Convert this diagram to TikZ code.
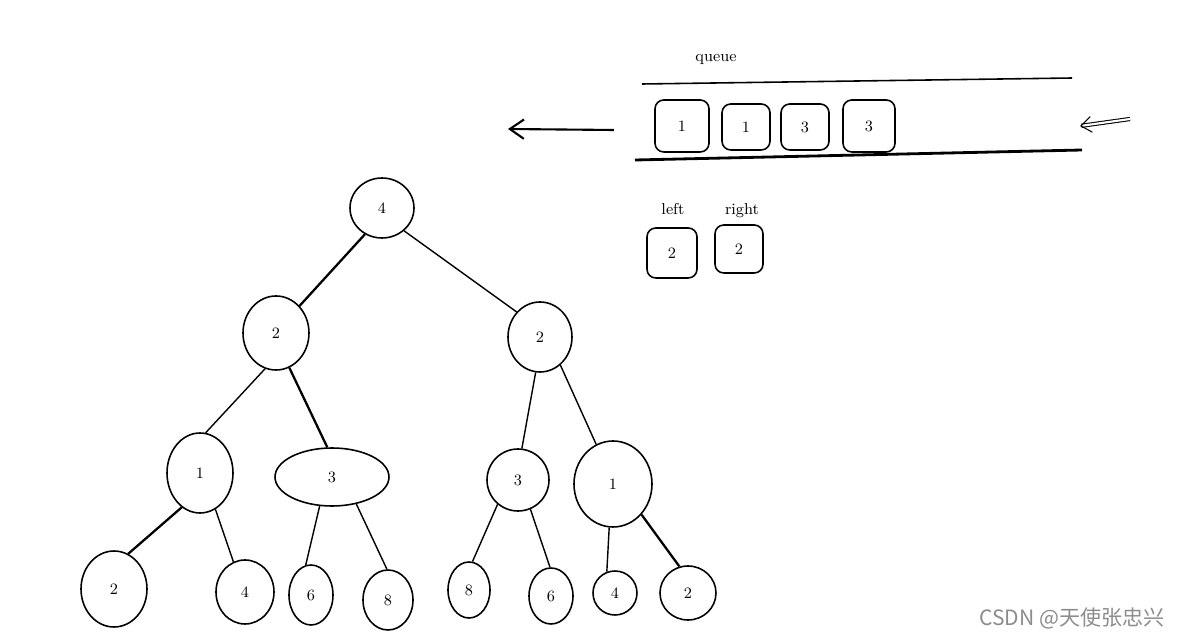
\documentclass[tikz,border=0pt]{standalone}
\usepackage{fontspec}
\usetikzlibrary{shapes.geometric}
\usetikzlibrary{arrows.meta}
\newfontfamily\cjkfont{Noto Sans CJK SC}

\begin{document}
\begin{tikzpicture}[x=0.02cm,y=-0.02cm,
    treenode/.style={draw,line width=.9pt,ellipse,inner sep=0pt,font=\fontsize{9}{10}\selectfont},
    qbox/.style={draw,line width=.9pt,rounded corners=5pt,inner sep=0pt,font=\fontsize{9}{10}\selectfont},
    edge/.style={line width=.8pt},
    thickedge/.style={line width=1.3pt},
    lbl/.style={font=\fontsize{9}{10}\selectfont}]
				\useasboundingbox[fill=white] (0,0) rectangle (1181,638);
				% tree
				\node[treenode,minimum width=64*0.02cm,minimum height=60*0.02cm] (r) at (382,208) {4};
				\node[treenode,minimum width=66*0.02cm,minimum height=74*0.02cm] (a) at (276,333) {2};
				\node[treenode,minimum width=64*0.02cm,minimum height=70*0.02cm] (b) at (540,337) {2};
				\node[treenode,minimum width=66*0.02cm,minimum height=80*0.02cm] (aa) at (200,473) {1};
				\node[treenode,minimum width=114*0.02cm,minimum height=58*0.02cm] (ab) at (332,477) {3};
				\node[treenode,minimum width=62*0.02cm,minimum height=62*0.02cm] (ba) at (518,480) {3};
				\node[treenode,minimum width=78*0.02cm,minimum height=86*0.02cm] (bb) at (613,484) {1};
				\node[treenode,minimum width=66*0.02cm,minimum height=76*0.02cm] (aaa) at (114,589) {2};
				\node[treenode,minimum width=58*0.02cm,minimum height=64*0.02cm] (aab) at (245,592) {4};
				\node[treenode,minimum width=44*0.02cm,minimum height=60*0.02cm] (aba) at (311,595) {6};
				\node[treenode,minimum width=50*0.02cm,minimum height=60*0.02cm] (abb) at (388,600) {8};
				\node[treenode,minimum width=42*0.02cm,minimum height=56*0.02cm] (baa) at (469,590) {8};
				\node[treenode,minimum width=44*0.02cm,minimum height=56*0.02cm] (bab) at (551,596) {6};
				\node[treenode,minimum width=44*0.02cm,minimum height=44*0.02cm] (bba) at (615,593) {4};
				\node[treenode,minimum width=56*0.02cm,minimum height=54*0.02cm] (bbb) at (688,593) {2};
				\draw[thickedge] (r.237) -- (a.49);
				\draw[edge] (r.314) -- (b.133);
				\draw[edge] (a.253) -- (aa.82);
				\draw[thickedge] (a.291) -- (ab.99);
				\draw[edge] (b.263) -- (ba.83);
				\draw[edge] (b.306) -- (bb.113);
				\draw[thickedge] (aa.242) -- (aaa.68);
				\draw[edge] (aa.293) -- (aab.111);
				\draw[edge] (ab.247) -- (aba.100);
				\draw[edge] (ab.312) -- (abb.92);
				\draw[edge] (ba.230) -- (baa.83);
				\draw[edge] (ba.293) -- (bab.92);
				\draw[edge] (bb.265) -- (bba.111);
				\draw[thickedge] (bb.313) -- (bbb.108);
				% queue
				\node[lbl] (qlabel) at (716,59) {queue};
				\coordinate (qt1) at (642,84);
				\coordinate (qt2) at (1072,78);
				\coordinate (qb1) at (635,160);
				\coordinate (qb2) at (1082,150);
				\draw[line width=.9pt] (qt1) -- (qt2);
				\draw[line width=1.6pt] (qb1) -- (qb2);
				\node[qbox,minimum width=54*0.02cm,minimum height=52*0.02cm] (q1) at (682,126) {1};
				\node[qbox,minimum width=48*0.02cm,minimum height=46*0.02cm] (q2) at (746,127) {1};
				\node[qbox,minimum width=48*0.02cm,minimum height=46*0.02cm] (q3) at (805,127) {3};
				\node[qbox,minimum width=52*0.02cm,minimum height=52*0.02cm] (q4) at (869,126) {3};
				\coordinate (outs) at (614,130);
				\coordinate (oute) at (508,129);
				\coordinate (ins) at (1130,119);
				\coordinate (ine) at (1080,126);
				\draw[line width=1.2pt,-{Straight Barb[length=8pt,width=11pt]}] (outs) -- (oute);
				\draw[line width=.6pt,double,double distance=1.2pt,-{Straight Barb[length=6pt,width=9pt]}] (ins) -- (ine);
				% left / right
				\node[lbl] (leftlbl) at (673,209) {left};
				\node[lbl] (rightlbl) at (742,211) {right};
				\node[qbox,minimum width=50*0.02cm,minimum height=50*0.02cm] (lt) at (672,253) {2};
				\node[qbox,minimum width=48*0.02cm,minimum height=48*0.02cm] (rt) at (739,249) {2};
				% watermark
				\node[text=black!45,font=\cjkfont\fontsize{12}{14}\selectfont] (mark) at (1072,618) {CSDN @天使张忠兴};
			\end{tikzpicture}
\end{document}
